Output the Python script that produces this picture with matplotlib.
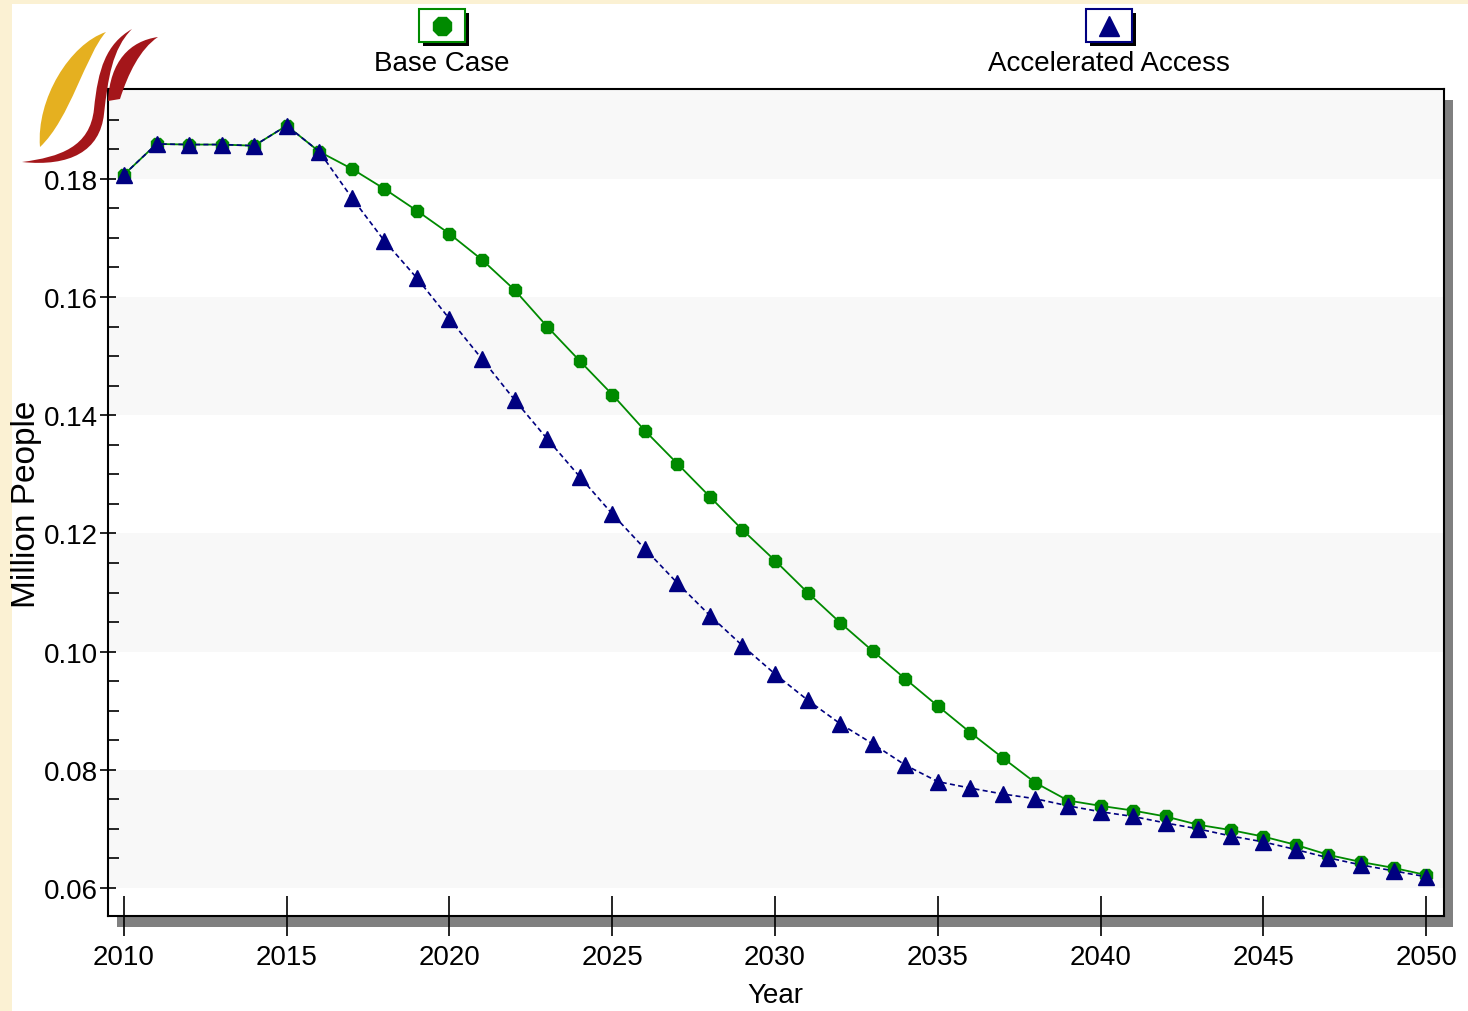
import matplotlib.pyplot as plt
import numpy as np
from matplotlib.patches import Rectangle, PathPatch
from matplotlib.path import Path
from matplotlib.lines import Line2D

plt.rcParams['font.family'] = ['Liberation Sans', 'DejaVu Sans']

years = list(range(2010, 2051))

base_case = [0.1807, 0.1859, 0.1858, 0.1858, 0.1856, 0.1890, 0.1846, 0.1817, 0.1783, 0.1746,
             0.1707, 0.1663, 0.1612, 0.1550, 0.1492, 0.1435, 0.1374, 0.1318, 0.1262, 0.1206,
             0.1154, 0.1100, 0.1049, 0.1001, 0.0954, 0.0908, 0.0863, 0.0820, 0.0778, 0.0748,
             0.0739, 0.0731, 0.0721, 0.0707, 0.0698, 0.0687, 0.0673, 0.0656, 0.0644, 0.0634,
             0.0622]

accelerated = [0.1807, 0.1859, 0.1858, 0.1858, 0.1856, 0.1890, 0.1846, 0.1768, 0.1695, 0.1632,
               0.1563, 0.1495, 0.1426, 0.1360, 0.1296, 0.1233, 0.1174, 0.1116, 0.1061, 0.1010,
               0.0962, 0.0918, 0.0878, 0.0844, 0.0808, 0.0780, 0.0769, 0.0759, 0.0751, 0.0739,
               0.0729, 0.0721, 0.0710, 0.0700, 0.0688, 0.0678, 0.0665, 0.0651, 0.0639, 0.0629,
               0.0619]

series_names = ['Base Case', 'Accelerated Access']
x_ticks = [2010, 2015, 2020, 2025, 2030, 2035, 2040, 2045, 2050]
y_ticks = [0.06, 0.08, 0.10, 0.12, 0.14, 0.16, 0.18]

W, H = 1468, 1012
green = '#008a00'
navy = '#000080'
FS = 20


def fx(px):
    return px / W


def fy(py):
    return 1 - py / H


fig = plt.figure(figsize=(W / 100, H / 100), dpi=100, facecolor='#fbf1d3')

# white panel
fig.add_artist(Rectangle((fx(12), 0), 1, fy(5), transform=fig.transFigure,
                         facecolor='white', edgecolor='none', zorder=0))

# plot area
left, right, top, bottom = 108, 1444, 90, 917
ax = fig.add_axes([fx(left), fy(bottom), fx(right - left), fy(top) - fy(bottom)])
ax.set_zorder(2)

# shadow behind plot frame
fig.add_artist(Rectangle((fx(left + 9), fy(bottom + 11)), fx(right - left), fy(top) - fy(bottom),
                         transform=fig.transFigure, facecolor='#808080', edgecolor='none', zorder=1))

ax.set_xlim(2009.51, 2050.55)
ax.set_ylim(0.05526, 0.1952)

# alternating bands
band_edges = [0.06, 0.08, 0.10, 0.12, 0.14, 0.16, 0.18, 0.1952]
for i in range(len(band_edges) - 1):
    if i % 2 == 0:
        ax.axhspan(band_edges[i], band_edges[i + 1], color='#f8f8f8', zorder=0, lw=0)

ax.plot(years, base_case, color=green, lw=1.3, marker='8', ms=10,
        markerfacecolor=green, markeredgecolor=green, zorder=3)
ax.plot(years, accelerated, color=navy, lw=1.2, ls=(0, (3, 2)), marker='^', ms=11,
        markerfacecolor=navy, markeredgecolor=navy, zorder=4)

ax.set_xticks(x_ticks)
ax.set_yticks(y_ticks)
ax.set_yticklabels(['%.2f' % v for v in y_ticks])
ax.set_yticks(np.arange(0.06, 0.1951, 0.005), minor=True)
ax.tick_params(axis='x', direction='inout', length=29, width=1.2, labelsize=FS, pad=6)
ax.tick_params(axis='y', which='major', direction='inout', length=11, width=1.2,
               labelsize=FS, pad=2)
ax.tick_params(axis='y', which='minor', direction='in', length=8, width=1.2)
for s in ax.spines.values():
    s.set_linewidth(1.5)

fig.text(fx(775), fy(996), 'Year', fontsize=FS, ha='center', va='center')
fig.text(fx(26), fy(504), 'Million People', rotation=90, fontsize=24,
         ha='center', va='center')

# legend boxes at top
for name, cx, mk, col in [(series_names[0], 442, '8', green), (series_names[1], 1109, '^', navy)]:
    bw, bh = 46, 33
    x0, y0 = cx - bw / 2, 10
    fig.add_artist(Rectangle((fx(x0 + 4), fy(y0 + bh + 4)), fx(bw), fy(0) - fy(bh),
                             transform=fig.transFigure, facecolor='black', edgecolor='none', zorder=3))
    fig.add_artist(Rectangle((fx(x0), fy(y0 + bh)), fx(bw), fy(0) - fy(bh),
                             transform=fig.transFigure, facecolor='white', edgecolor=col,
                             lw=1.5, zorder=4))
    fig.add_artist(Line2D([fx(cx)], [fy(y0 + bh / 2)], transform=fig.transFigure, marker=mk,
                          ms=14, color=col, ls='none', zorder=5))
    fig.text(fx(cx), fy(64), name, fontsize=FS, ha='center', va='center')

# logo in the top-left corner
def pix_path(verts, codes):
    return Path([(fx(x), fy(y)) for x, y in verts], codes)

C = Path.CURVE4
yellow_leaf = pix_path([(40, 148), (36, 100), (70, 45), (106, 33), (86, 55), (70, 120), (40, 148)],
                       [Path.MOVETO, C, C, C, C, C, C])
red_swoosh = pix_path([(22, 163), (60, 158), (90, 148), (94, 110), (98, 70), (106, 45), (132, 30),
                       (112, 50), (108, 80), (104, 115), (100, 152), (70, 168), (22, 163)],
                      [Path.MOVETO, C, C, C, C, C, C, C, C, C, C, C, C])
red_piece = pix_path([(108, 102), (110, 62), (130, 42), (158, 38), (140, 50), (128, 75), (120, 100),
                      (108, 102)],
                     [Path.MOVETO, C, C, C, C, C, C, Path.CLOSEPOLY])
fig.add_artist(PathPatch(yellow_leaf, transform=fig.transFigure, facecolor='#e5b020',
                         edgecolor='none', zorder=5))
fig.add_artist(PathPatch(red_swoosh, transform=fig.transFigure, facecolor='#a4161a',
                         edgecolor='none', zorder=5))
fig.add_artist(PathPatch(red_piece, transform=fig.transFigure, facecolor='#a4161a',
                         edgecolor='none', zorder=5))

fig.savefig('out.png', dpi=100, facecolor=fig.get_facecolor())
